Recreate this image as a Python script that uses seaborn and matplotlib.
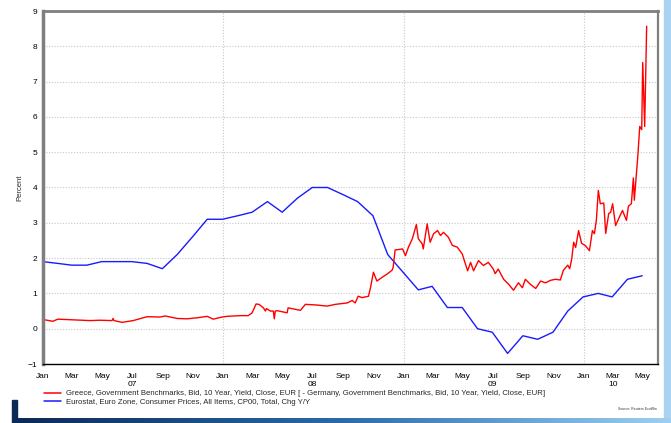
import numpy as np
import pandas as pd
import matplotlib
matplotlib.use("Agg")
import matplotlib.pyplot as plt
import matplotlib.dates as mdates
from matplotlib.lines import Line2D
from matplotlib.patches import Rectangle
import seaborn as sns

# Greece - Germany 10y spread
spread_dates = [
    "2007-01-01", "2007-01-21", "2007-01-31", "2007-03-03", "2007-04-06", "2007-04-27",
    "2007-05-21", "2007-05-23", "2007-05-25", "2007-06-10", "2007-07-03", "2007-07-31",
    "2007-08-26", "2007-09-06", "2007-09-30", "2007-10-20", "2007-11-10", "2007-11-30",
    "2007-12-12", "2007-12-30", "2008-01-09", "2008-02-05", "2008-02-21", "2008-02-29",
    "2008-03-08", "2008-03-14", "2008-03-23", "2008-03-27", "2008-03-29", "2008-04-06",
    "2008-04-12", "2008-04-14", "2008-04-16", "2008-04-20", "2008-05-10", "2008-05-12",
    "2008-06-06", "2008-06-16", "2008-07-10", "2008-07-30", "2008-08-16", "2008-09-09",
    "2008-09-19", "2008-09-25", "2008-10-01", "2008-10-09", "2008-10-22", "2008-10-26",
    "2008-11-01", "2008-11-08", "2008-11-19", "2008-11-29", "2008-12-09", "2008-12-11",
    "2008-12-15", "2008-12-30", "2009-01-05", "2009-01-11", "2009-01-19", "2009-01-27",
    "2009-01-31", "2009-02-08", "2009-02-10", "2009-02-18", "2009-02-24", "2009-03-03",
    "2009-03-11", "2009-03-17", "2009-03-23", "2009-04-02", "2009-04-10", "2009-04-20",
    "2009-04-30", "2009-05-11", "2009-05-17", "2009-05-23", "2009-06-02", "2009-06-12",
    "2009-06-22", "2009-07-02", "2009-07-06", "2009-07-12", "2009-07-23", "2009-08-02",
    "2009-08-12", "2009-08-22", "2009-08-30", "2009-09-05", "2009-09-15", "2009-09-26",
    "2009-10-06", "2009-10-16", "2009-10-26", "2009-11-05", "2009-11-15", "2009-11-21",
    "2009-11-30", "2009-12-04", "2009-12-08", "2009-12-12", "2009-12-16", "2009-12-22",
    "2009-12-28", "2010-01-05", "2010-01-13", "2010-01-19", "2010-01-23", "2010-01-27",
    "2010-01-31", "2010-02-04", "2010-02-11", "2010-02-15", "2010-02-21", "2010-02-25",
    "2010-03-01", "2010-03-07", "2010-03-13", "2010-03-21", "2010-03-29", "2010-04-02",
    "2010-04-08", "2010-04-12", "2010-04-14", "2010-04-21", "2010-04-25", "2010-04-29",
    "2010-05-01", "2010-05-05", "2010-05-09",
]
spread_values = [
    0.26, 0.21, 0.27, 0.25, 0.23, 0.24,
    0.23, 0.29, 0.23, 0.18, 0.23, 0.34,
    0.33, 0.36, 0.29, 0.28, 0.31, 0.35,
    0.27, 0.33, 0.35, 0.37, 0.37, 0.45,
    0.70, 0.69, 0.59, 0.50, 0.57, 0.50,
    0.50, 0.28, 0.50, 0.51, 0.45, 0.59,
    0.52, 0.69, 0.67, 0.64, 0.69, 0.73,
    0.80, 0.73, 0.92, 0.88, 0.92, 1.16,
    1.60, 1.35, 1.46, 1.55, 1.66, 1.74,
    2.23, 2.26, 2.07, 2.31, 2.55, 2.95,
    2.55, 2.40, 2.26, 2.97, 2.45, 2.69,
    2.78, 2.64, 2.73, 2.59, 2.36, 2.31,
    2.12, 1.64, 1.88, 1.64, 1.93, 1.79,
    1.88, 1.69, 1.56, 1.69, 1.40, 1.26,
    1.09, 1.30, 1.16, 1.40, 1.26, 1.14,
    1.35, 1.30, 1.37, 1.40, 1.38, 1.65,
    1.80, 1.70, 1.97, 2.45, 2.30, 2.78,
    2.42, 2.35, 2.21, 2.78, 2.69, 3.07,
    3.92, 3.54, 3.56, 2.70, 3.26, 3.30,
    3.54, 2.92, 3.11, 3.35, 3.07, 3.47,
    3.54, 4.27, 3.64, 4.88, 5.73, 5.64,
    7.54, 5.73, 8.57,
]

# Euro zone HICP y/y, month-end values Dec 2006 .. Apr 2010
cpi_values = [
    1.9,
    1.85, 1.8, 1.8, 1.9, 1.9, 1.9, 1.85, 1.7, 2.1, 2.6, 3.1, 3.1,
    3.2, 3.3, 3.6, 3.3, 3.7, 4.0, 4.0, 3.8, 3.6, 3.2, 2.1, 1.6,
    1.1, 1.2, 0.6, 0.6, 0.0, -0.1, -0.7, -0.2, -0.3, -0.1, 0.5, 0.9,
    1.0, 0.9, 1.4, 1.5,
]
cpi_dates = pd.date_range("2007-01-01", periods=len(cpi_values), freq="MS") - pd.Timedelta(days=1)

label_red = ("Greece, Government Benchmarks, Bid, 10 Year, Yield, Close, EUR [ - Germany, "
             "Government Benchmarks, Bid, 10 Year, Yield, Close, EUR]")
label_blue = "Eurostat, Euro Zone, Consumer Prices, All Items, CP00, Total, Chg Y/Y"

RED = "#ff0000"
BLUE = "#1a1aff"

sns.set_style("white")
plt.rcParams["font.family"] = ["Liberation Sans", "DejaVu Sans"]

spread = pd.DataFrame({"date": pd.to_datetime(spread_dates), "value": spread_values})
cpi = pd.DataFrame({"date": cpi_dates, "value": cpi_values})

fig = plt.figure(figsize=(6.71, 4.23), dpi=100)
ax = fig.add_axes([43 / 671, 1 - 364 / 423, (658 - 43) / 671, (364 - 11) / 423])

sns.lineplot(data=cpi, x="date", y="value", ax=ax, color=BLUE, lw=1.0)
sns.lineplot(data=spread, x="date", y="value", ax=ax, color=RED, lw=1.0)

ax.set_xlim(pd.Timestamp("2007-01-01"), pd.Timestamp("2010-06-01"))
ax.set_ylim(-1, 9)
ax.set_yticks(range(-1, 10))

# grid
for yv in range(0, 9):
    ax.axhline(yv, color="#c8c8c8", lw=0.8, ls=(0, (1, 1.5)), zorder=0)
for yr in [2008, 2009, 2010]:
    ax.axvline(pd.Timestamp(f"{yr}-01-01"), color="#c8c8c8", lw=0.8, ls=(0, (1, 1.5)), zorder=0)

# x ticks
ax.xaxis.set_major_locator(mdates.MonthLocator(bymonth=[1, 3, 5, 7, 9, 11]))
ticks = ax.get_xticks()
labels = []
for t in ticks:
    d = mdates.num2date(t)
    s = d.strftime("%b")
    if (d.month == 7 and d.year < 2010) or (d.month == 3 and d.year == 2010):
        s += "\n" + d.strftime("%y")
    labels.append(s)
ax.set_xticks(ticks)
ax.set_xticklabels(labels, linespacing=1.15, va="top")
ax.xaxis.set_minor_locator(mdates.MonthLocator())

ax.tick_params(axis="x", which="both", direction="inout", length=4, width=0.8,
               labelsize=6, pad=4.5, colors="black")
ax.tick_params(axis="y", which="major", direction="out", length=2, width=0.6,
               labelsize=6, pad=2, colors="black")

ax.set_xlabel("")
ax.set_ylabel("Percent", fontsize=5.5, labelpad=3)

for side in ["left", "top", "right"]:
    ax.spines[side].set_color("#7f7f7f")
ax.spines["left"].set_linewidth(2.5)
ax.spines["top"].set_linewidth(2.0)
ax.spines["right"].set_linewidth(1.6)
ax.spines["bottom"].set_color("black")
ax.spines["bottom"].set_linewidth(1.0)

# legend below the axes
handles = [Line2D([], [], color=RED, lw=1.1), Line2D([], [], color=BLUE, lw=1.1)]
fig.legend(handles, [label_red, label_blue], loc="upper left",
           bbox_to_anchor=(44 / 671, 1 - 390 / 423), frameon=False, fontsize=5.6,
           handlelength=2.2, handletextpad=0.6, labelspacing=0.15, borderaxespad=0,
           borderpad=0)

fig.text(657 / 671, 1 - 409 / 423, "Source: Reuters EcoWin", fontsize=2.5,
         ha="right", va="center", color="#333333")

# decorative frame
fig.patches.append(Rectangle((664 / 671, 0), 7 / 671, 1, transform=fig.transFigure,
                             color="#a9d3f0", zorder=-1))
grad = fig.add_axes([15 / 671, 0, 656 / 671, 5 / 423])
grad.imshow(np.linspace(0, 1, 256)[None, :], aspect="auto",
            cmap=matplotlib.colors.LinearSegmentedColormap.from_list(
                "g", ["#0b2a55", "#2c6aa8", "#9fd0f0"]))
grad.axis("off")
fig.patches.append(Rectangle((12 / 671, 0), 5 / 671, 23 / 423, transform=fig.transFigure,
                             color="#0b2a55", zorder=5))

fig.savefig("out.png", dpi=100)
